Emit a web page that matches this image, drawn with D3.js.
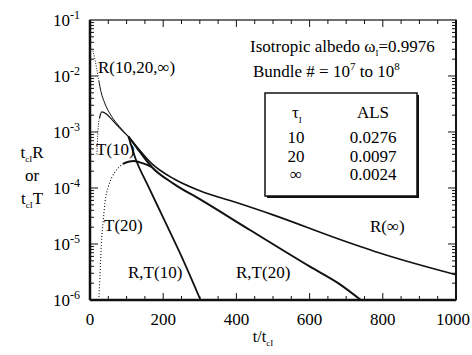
<!DOCTYPE html>
<html>
<head>
<meta charset="utf-8">
<script src="https://cdn.jsdelivr.net/npm/d3@7"></script>
<style>
  body { margin: 0; font-family: "Liberation Serif", serif; }
  svg text { font-family: "Liberation Serif", "Times New Roman", serif; }
</style>
</head>
<body>
<svg id="chart" width="472" height="355"></svg>
<script>
// curves: [t/tcI, log10(value)]
const rCommon = [[8,-1.55],[14,-1.72],[18,-1.86],[24,-2.08],[30,-2.28],[40,-2.48],[59,-2.72],[80,-2.9],[105,-3.08]];
const rt10 = [[105,-3.08],[123,-3.45],[160,-3.98],[200,-4.53],[250,-5.22],[302,-6.0]];
const t10 = [[19,-3.4],[22,-2.95],[26,-2.75],[32,-2.64],[45,-2.68],[60,-2.78],[77,-2.9],[95,-3.02],[105,-3.08]];
const t20 = [[24,-6],[27,-5.6],[31,-5.0],[36,-4.6],[41,-4.25],[50,-3.98],[59,-3.82],[75,-3.66],[90,-3.57],[105,-3.53],[120,-3.52],[145,-3.56],[168,-3.62]];
const r20 = [[105,-3.08],[130,-3.3],[168,-3.62],[230,-3.93],[300,-4.2],[437,-4.75],[600,-5.4],[683,-5.72],[740,-6.0]];
const rInf = [[105,-3.08],[130,-3.28],[168,-3.56],[230,-3.84],[300,-4.05],[400,-4.26],[500,-4.48],[683,-4.92],[800,-5.18],[1000,-5.55]];

const xTicks = [0, 200, 400, 600, 800, 1000];
const yExps = [-1, -2, -3, -4, -5, -6];
const tauRows = ["10", "20", "\u221e"];
const alsRows = ["0.0276", "0.0097", "0.0024"];

const FONT = "'Liberation Serif', 'Times New Roman', serif";

const margin = { top: 20, right: 16, bottom: 55, left: 90 },
      width = 472 - margin.left - margin.right,
      height = 355 - margin.top - margin.bottom;

const root = d3.select("#chart");
const svg = root.append("g")
  .attr("transform", `translate(${margin.left},${margin.top})`);

const txt = (g, tx, ty, size) => g.append("text")
  .attr("x", tx).attr("y", ty)
  .attr("font-family", FONT)
  .attr("style", `font-family: ${FONT}`)
  .attr("font-size", size);

const x = d3.scaleLinear().domain([0, 1000]).range([0, width]);
const y = d3.scaleLog().domain([1e-6, 1e-1]).range([height, 0]);

// ticks (inward on all four sides)
const minorX = d3.range(0, 1001, 50).filter(v => v % 200 !== 0);
const logTicks = [];
for (let e = -6; e < -1; e++) for (let m = 1; m < 10; m++) logTicks.push(m * Math.pow(10, e));

const ax = svg.append("g").attr("stroke", "#111");
xTicks.forEach(v => {
  ax.append("line").attr("x1", x(v)).attr("x2", x(v)).attr("y1", height).attr("y2", height - 7);
  ax.append("line").attr("x1", x(v)).attr("x2", x(v)).attr("y1", 0).attr("y2", 7);
});
minorX.forEach(v => {
  ax.append("line").attr("x1", x(v)).attr("x2", x(v)).attr("y1", height).attr("y2", height - 4);
  ax.append("line").attr("x1", x(v)).attr("x2", x(v)).attr("y1", 0).attr("y2", 4);
});
logTicks.forEach(v => {
  const major = Math.abs(Math.log10(v) - Math.round(Math.log10(v))) < 1e-9;
  const len = major ? 8 : 4;
  ax.append("line").attr("x1", 0).attr("x2", len).attr("y1", y(v)).attr("y2", y(v));
  ax.append("line").attr("x1", width).attr("x2", width - len).attr("y1", y(v)).attr("y2", y(v));
});

// frame
svg.append("rect").attr("width", width).attr("height", height)
  .attr("fill", "none").attr("stroke", "#111").attr("stroke-width", 1.2);
svg.append("line").attr("x1", 0).attr("x2", width).attr("y1", height).attr("y2", height)
  .attr("stroke", "#111").attr("stroke-width", 2.5);
svg.append("line").attr("x1", 0).attr("x2", 0).attr("y1", 0).attr("y2", height)
  .attr("stroke", "#111").attr("stroke-width", 2.5);
svg.append("line").attr("x1", width).attr("x2", width).attr("y1", 0).attr("y2", height)
  .attr("stroke", "#111").attr("stroke-width", 2);

// tick labels
xTicks.forEach(v => {
  txt(svg, v === 1000 ? width + 14 : x(v), height + 25, 17)
    .attr("text-anchor", v === 1000 ? "end" : "middle").text(v);
});
yExps.forEach(e => {
  const t = txt(svg, -10, y(Math.pow(10, e)) + 6, 17).attr("text-anchor", "end");
  t.append("tspan").text("10");
  t.append("tspan").attr("dy", -7).attr("font-size", 12).text(e);
});

// curves
const line = d3.line()
  .x(d => x(d[0]))
  .y(d => y(Math.pow(10, d[1])))
  .curve(d3.curveMonotoneX);

const curves = svg.append("g").attr("fill", "none").attr("stroke", "#111");
curves.append("path").datum(rCommon.slice(0, 4)).attr("d", line)
  .attr("stroke-width", 1).attr("stroke-dasharray", "1,1.5");
curves.append("path").datum(rCommon.slice(3)).attr("d", line).attr("stroke-width", 1);
curves.append("path").datum(t10.slice(0, 3)).attr("d", line)
  .attr("stroke-width", 1).attr("stroke-dasharray", "1,1.5");
curves.append("path").datum(t10.slice(2)).attr("d", line).attr("stroke-width", 1.2);
curves.append("path").datum(t20.slice(0, 9)).attr("d", line)
  .attr("stroke-width", 1.1).attr("stroke-dasharray", "1,2");
curves.append("path").datum(t20.slice(8)).attr("d", line).attr("stroke-width", 2);
curves.append("path").datum(rt10).attr("d", line).attr("stroke-width", 1.8);
curves.append("path").datum(r20).attr("d", line).attr("stroke-width", 2);
curves.append("path").datum(rInf).attr("d", line).attr("stroke-width", 1.6);

// curve labels
const lab = (tx, ty, s) => txt(svg, tx, ty, 17).text(s);
lab(8, 53, "R(10,20,\u221e)");
lab(6, 135, "T(10)");
lab(14, 211, "T(20)");
lab(38, 258, "R,T(10)");
lab(146, 258, "R,T(20)");
lab(280, 212, "R(\u221e)");

// annotations
const a1 = txt(svg, 160, 32, 17);
a1.append("tspan").text("Isotropic albedo \u03c9");
a1.append("tspan").attr("dy", 4).attr("font-size", 9).text("I");
a1.append("tspan").attr("dy", -4).text("=0.9976");
const a2 = txt(svg, 163, 57, 17);
a2.append("tspan").text("Bundle # = 10");
a2.append("tspan").attr("dy", -7).attr("font-size", 11).text("7");
a2.append("tspan").attr("dy", 7).text(" to 10");
a2.append("tspan").attr("dy", -7).attr("font-size", 11).text("8");

// ALS table box
const bx = 175, by = 73, bw = 152, bh = 103;
svg.append("rect").attr("x", bx + 2).attr("y", by + 2).attr("width", bw).attr("height", bh)
  .attr("fill", "#111");
svg.append("rect").attr("x", bx).attr("y", by).attr("width", bw).attr("height", bh)
  .attr("fill", "#fff").attr("stroke", "#111").attr("stroke-width", 1.5);
const th = txt(svg, bx + 27, by + 25, 17);
th.append("tspan").text("\u03c4");
th.append("tspan").attr("dy", 5).attr("font-size", 9).text("I");
txt(svg, bx + 108, by + 25, 17).attr("text-anchor", "middle").text("ALS");
tauRows.forEach((s, i) => {
  txt(svg, bx + 31, by + 50 + i * 18.5, 17).attr("text-anchor", "middle").text(s);
  txt(svg, bx + 108, by + 50 + i * 18.5, 17).attr("text-anchor", "middle").text(alsRows[i]);
});

// axis titles
const yl1 = txt(root, 32, 158, 17).attr("text-anchor", "middle");
yl1.append("tspan").text("t");
yl1.append("tspan").attr("dy", 4).attr("font-size", 9).text("cI");
yl1.append("tspan").attr("dy", -4).text("R");
txt(root, 32, 181, 17).attr("text-anchor", "middle").text("or");
const yl3 = txt(root, 32, 204, 17).attr("text-anchor", "middle");
yl3.append("tspan").text("t");
yl3.append("tspan").attr("dy", 4).attr("font-size", 9).text("cI");
yl3.append("tspan").attr("dy", -4).text("T");

const xt = txt(root, 263, 342, 16).attr("text-anchor", "middle");
xt.append("tspan").text("t/t");
xt.append("tspan").attr("dy", 4).attr("font-size", 9).text("cI");
</script>
</body>
</html>
